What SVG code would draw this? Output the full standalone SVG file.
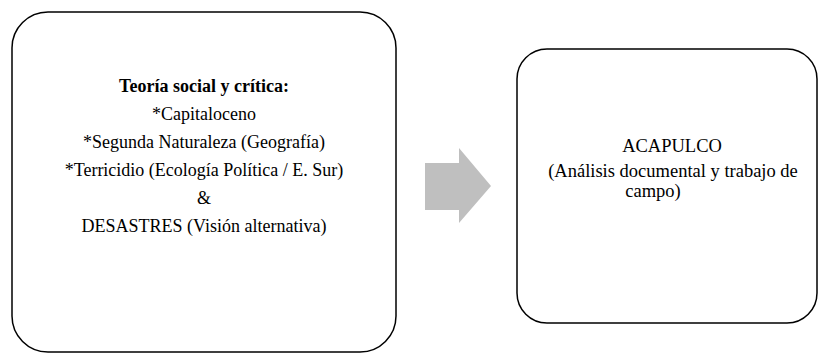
<svg xmlns="http://www.w3.org/2000/svg" width="819" height="354" viewBox="0 0 819 354">
<style>
.box{fill:#fff;stroke:#000;stroke-width:1.5}
.t{font-family:"Liberation Serif","Times New Roman",serif;font-size:18px;fill:#000;text-anchor:middle}
.r{font-size:18.5px}
.b{font-weight:bold}
</style>
<rect width="819" height="354" fill="#fff"/>
<g id="teoria">
<rect class="box" x="12" y="12" width="384" height="340" rx="36" ry="36"/>
<text class="t b" x="204" y="92">Teoría social y crítica:</text>
<text class="t" x="204" y="120">*Capitaloceno</text>
<text class="t" x="204" y="148">*Segunda Naturaleza (Geografía)</text>
<text class="t" x="204" y="176">*Terricidio (Ecología Política / E. Sur)</text>
<text class="t" x="204" y="204">&amp;</text>
<text class="t" x="204" y="232">DESASTRES (Visión alternativa)</text>
</g>
<g id="connectors">
<polygon points="425,163 459,163 459,148 491,186 459,223 459,210 425,210" fill="#bfbfbf"/>
</g>
<g id="acapulco">
<rect class="box" x="517" y="49" width="300" height="274" rx="30" ry="30"/>
<text class="t r" x="672" y="152">ACAPULCO</text>
<text class="t r" x="673" y="177">(Análisis documental y trabajo de</text>
<text class="t r" x="653" y="197">campo)</text>
</g>
</svg>
